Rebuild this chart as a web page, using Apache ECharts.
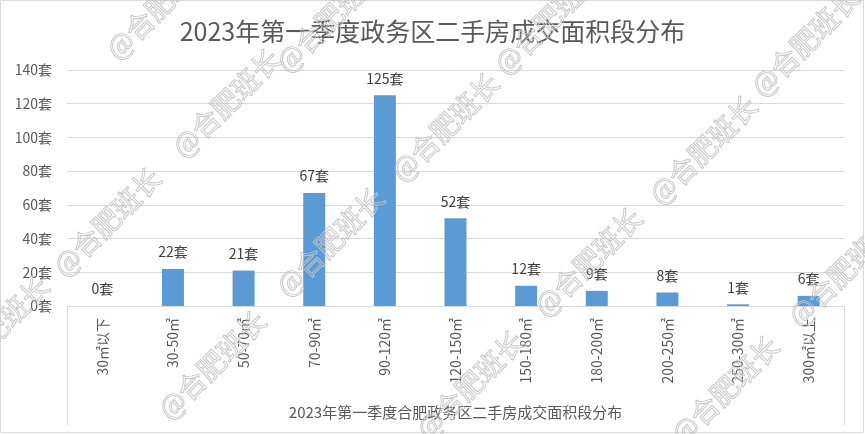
<!DOCTYPE html>
<html>
<head>
<meta charset="utf-8">
<script src="https://cdn.jsdelivr.net/npm/echarts@6/dist/echarts.min.js"></script>
<style>
html,body{margin:0;padding:0;background:#fff;}
#c{width:865px;height:434px;}
</style>
</head>
<body>
<div id="c"></div>
<script>
const titleText = '2023年第一季度政务区二手房成交面积段分布';
const axisNameText = '2023年第一季度合肥政务区二手房成交面积段分布';
const categories = ['30㎡以下','30-50㎡','50-70㎡','70-90㎡','90-120㎡','120-150㎡','150-180㎡','180-200㎡','200-250㎡','250-300㎡','300㎡以上'];
const counts = [0, 22, 21, 67, 125, 52, 12, 9, 8, 1, 6];
const yTicks = [0, 20, 40, 60, 80, 100, 120, 140];
const watermarkText = '@合肥班长';
const watermarkCenters = [[107,222],[226,103],[330,242],[445,127],[212,365],[588,262],[703,150],[470,385],[725,390],[842,272],[805,42],[548,20],[330,18],[-5,330],[160,5]];

const FONT = '"Noto Sans CJK SC", "Noto Sans", sans-serif';
const chart = echarts.init(document.getElementById('c'), null, {renderer:'canvas'});

const watermarks = watermarkCenters.map(p => ({
  type:'text', x:p[0], y:p[1], rotation: Math.PI/4, z:100, silent:true,
  style:{text:watermarkText, font:'28px ' + FONT, fill:'rgba(0,0,0,0)', stroke:'#c4c4c4', lineWidth:0.9, align:'center', verticalAlign:'middle'}
}));

chart.setOption({
  backgroundColor:'#fff',
  animation:false,
  textStyle:{fontFamily:FONT},
  title:{text:titleText, left:'center', top:14, textStyle:{fontSize:25, fontWeight:'normal', color:'#595959', fontFamily:FONT}},
  grid:{left:67, right:21, top:70, bottom:128, containLabel:false},
  xAxis:{
    type:'category', data:categories,
    name:axisNameText, nameLocation:'middle', nameGap:99,
    nameTextStyle:{fontSize:15, color:'#595959', fontFamily:FONT},
    axisLine:{show:true, lineStyle:{color:'#d9d9d9', width:1}},
    axisTick:{show:true, length:119, interval:(i)=> i===0, lineStyle:{color:'#d9d9d9'}},
    axisLabel:{rotate:90, margin:12, fontSize:14, color:'#595959', fontFamily:FONT, interval:0}
  },
  yAxis:{
    type:'value', min:yTicks[0], max:yTicks[yTicks.length-1], interval:20,
    axisLine:{show:false}, axisTick:{show:false},
    axisLabel:{formatter:'{value}套', fontSize:14, color:'#595959', margin:15, fontFamily:FONT},
    splitLine:{lineStyle:{color:'#d9d9d9', width:1}}
  },
  series:[{
    type:'bar', data:counts, barWidth:22,
    itemStyle:{color:'#5B9BD5'},
    label:{show:true, position:'top', distance:10, formatter:'{c}套', fontSize:14, color:'#404040', fontFamily:FONT}
  }],
  graphic:[
    {type:'rect', shape:{x:0.5, y:0.5, width:863, height:432}, style:{fill:'none', stroke:'#d9d9d9', lineWidth:1}, silent:true, z:0}
  ].concat(watermarks)
});
</script>
</body>
</html>
